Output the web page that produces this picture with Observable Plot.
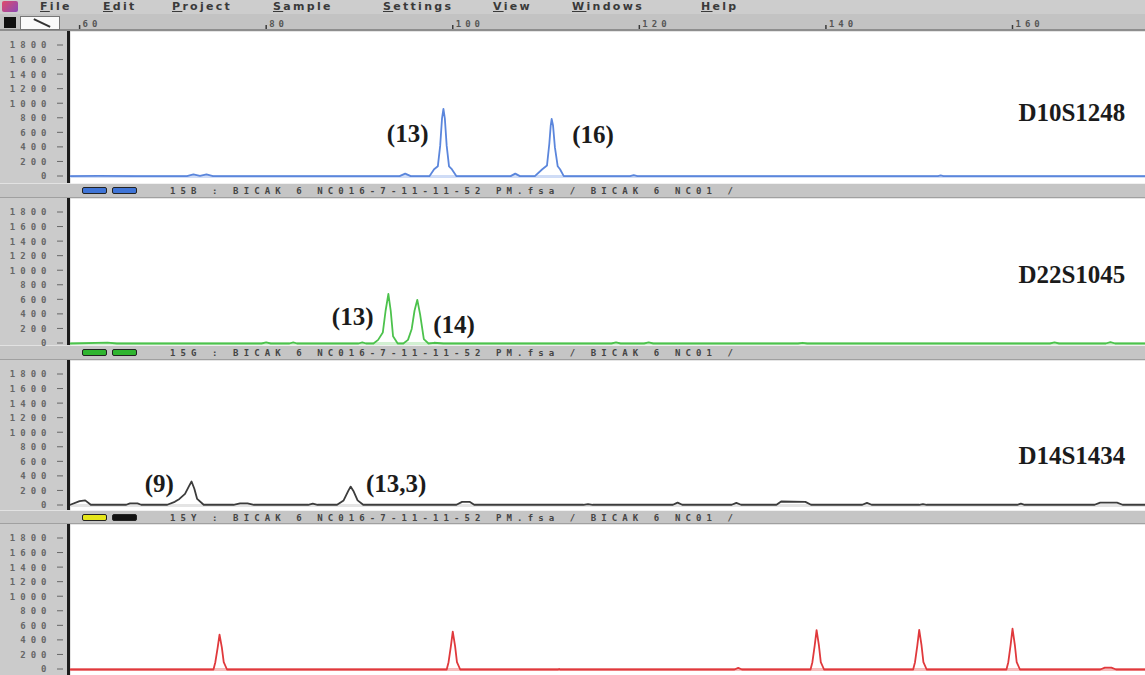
<!DOCTYPE html>
<html>
<head>
<meta charset="utf-8">
<script src="https://cdn.jsdelivr.net/npm/d3@7"></script>
<script src="https://cdn.jsdelivr.net/npm/@observablehq/plot@0.6"></script>
<style>
  html, body { margin: 0; padding: 0; background: #fff; }
  #app { position: relative; width: 1145px; height: 675px; overflow: hidden; background: #fff; }
  .menu { position: absolute; left: 0; top: 0; width: 1145px; height: 14px; background: #cdcdcd; }
  .menu .item { position: absolute; top: 0px; font: 600 11px "DejaVu Sans", sans-serif; letter-spacing: 2.3px; color: #3a3a3a; line-height: 14px; }
  .menu .item u { text-decoration: underline; }
  .menu .icon { position: absolute; left: 2px; top: 1px; width: 16px; height: 11px; background: linear-gradient(135deg, #e04a6a, #8a4ab8); border-radius: 2px; }
  .ruler { position: absolute; left: 0; top: 14px; width: 1145px; height: 17px; background: #c3c3c3; }
  .ruler .dark { position: absolute; left: 0; bottom: 0; width: 1145px; height: 2px; background: #8e8e8e; }
  .ruler .sq { position: absolute; left: 4px; top: 3px; width: 12px; height: 11px; background: #111; }
  .ruler .btn { position: absolute; left: 20px; top: 2px; width: 38px; height: 12px; background: #fafafa; border: 1px solid #777; }
  .ruler .btn::after { content: ""; position: absolute; left: 12px; top: 5px; width: 18px; height: 2px; background: #333; transform: rotate(25deg); }
  .bar { position: absolute; left: 0; width: 1145px; background: #c5c5c5; border-top: 1px solid #e2e2e2; box-sizing: border-box; border-bottom: 1px solid #a0a0a0; }
  .bar .b { position: absolute; top: 3px; width: 25px; height: 7px; border-radius: 2px; box-sizing: border-box; border: 1.5px solid #222; }
  .bar .t { position: absolute; left: 170px; top: 1px; font: bold 9px "DejaVu Sans Mono", monospace; letter-spacing: 5.1px; color: #444; white-space: pre; line-height: 12px; }
  .panel { position: absolute; left: 0; }
  .panel svg { overflow: visible !important; }
  .axisline { position: absolute; left: 67px; width: 3px; background: #1c1c1c; }
  /* RFU tick marks sit a little away from the axis line */
  .chan g[aria-label="y-axis tick"], .chan .tick line { transform: translateX(-7px); }
  .chan g[font-family="Liberation Serif"] text, .chan g[font-family="Liberation Serif"] { letter-spacing: 0; }
</style>
</head>
<body>
<div id="app"></div>
<script>
// Fragment sizes (bp) on the ruler and RFU ticks on every channel
const rulerTicks = [60, 80, 100, 120, 140, 160];
const rfuTicks = [0, 200, 400, 600, 800, 1000, 1200, 1400, 1600, 1800];
const menuItems = ["File", "Edit", "Project", "Sample", "Settings", "View", "Windows", "Help"];

// Blue channel trace, [size (bp), height (RFU)]
const blueTrace = [
  [59.0, 5], [62, 8], [66, 5], [71.5, 5], [72.2, 30], [72.9, 10], [73.6, 28], [74.3, 5],
  [80, 5], [88, 6], [94.3, 5], [94.9, 40], [95.5, 5],
  [97.5, 5], [98.0, 100], [98.4, 140], [98.65, 420], [98.85, 800], [99.0, 930], [99.15, 800],
  [99.35, 420], [99.6, 140], [99.9, 100], [100.4, 5],
  [106.2, 5], [106.7, 40], [107.2, 5],
  [108.8, 5], [109.6, 100], [110.1, 150], [110.35, 450], [110.5, 700], [110.6, 790], [110.75, 700],
  [110.95, 400], [111.25, 140], [111.5, 100], [111.9, 5],
  [119, 5], [119.4, 18], [119.8, 5], [152, 5], [152.3, 15], [152.6, 5], [174.3, 5]
];

// Green channel trace
const greenTrace = [
  [59, 0], [63, 12], [64, 0], [75, 0], [79.5, 0], [80, 15], [80.5, 0], [82.5, 0], [82.9, 15], [83.3, 0],
  [89.9, 0], [90.3, 15], [90.7, 0],
  [91.5, 0], [92.0, 50], [92.5, 150], [92.8, 450], [93.1, 680], [93.35, 450], [93.6, 100], [94.1, 0],
  [94.7, 0], [95.2, 50], [95.6, 200], [95.9, 450], [96.2, 600], [96.5, 400], [96.9, 60], [97.4, 0],
  [98, 10], [99, 0], [117, 0], [117.5, 15], [118, 0], [120.5, 0], [121, 15], [121.5, 0],
  [137, 0], [137.5, 10], [138, 0], [164, 0], [164.5, 15], [165, 0], [170, 0], [170.5, 20], [171, 0], [174.3, 0]
];

// Yellow channel trace (drawn in black)
const blackTrace = [
  [59, 10], [60, 60], [60.6, 70], [61.2, 10], [65, 10], [65.4, 30], [66.2, 30], [66.6, 10],
  [69.4, 10], [70.2, 50], [70.7, 90], [71.3, 160], [71.7, 260], [72.0, 330], [72.3, 230], [72.6, 90], [73.3, 10],
  [76.5, 10], [77.2, 30], [78.0, 30], [78.7, 10], [84.5, 10], [85, 25], [85.5, 10],
  [87.6, 10], [88.3, 70], [88.8, 200], [89.05, 260], [89.35, 200], [89.8, 70], [90.4, 10],
  [100.4, 10], [101, 50], [101.8, 50], [102.3, 10], [114, 10], [114.5, 20], [115, 10],
  [123.6, 10], [124.1, 40], [124.6, 10], [129.9, 10], [130.4, 35], [130.9, 10],
  [134.7, 10], [135.2, 55], [137.8, 50], [138.4, 10], [143.9, 10], [144.4, 35], [144.9, 10],
  [150, 10], [150.4, 20], [150.8, 10], [160.5, 10], [160.9, 25], [161.3, 10],
  [168.8, 10], [169.4, 40], [171.2, 40], [171.8, 10], [174.3, 10]
];

// Red channel: size standard peaks at 75, 100, 139, 150 and 160 bp
const redTrace = [
  [59, 0], [74.35, 0], [74.55, 100], [74.8, 300], [75.0, 480], [75.25, 300], [75.45, 100], [75.8, 0],
  [99.35, 0], [99.55, 100], [99.8, 320], [100.0, 520], [100.25, 320], [100.45, 100], [100.8, 0],
  [111.3, 0], [111.4, 8], [111.5, 0], [130.2, 0], [130.6, 22], [131.0, 0],
  [138.35, 0], [138.55, 100], [138.8, 330], [139.0, 540], [139.25, 330], [139.45, 100], [139.8, 0],
  [149.35, 0], [149.55, 100], [149.8, 330], [150.0, 545], [150.25, 330], [150.45, 100], [150.8, 0],
  [159.35, 0], [159.55, 100], [159.8, 340], [160.0, 560], [160.25, 340], [160.45, 100], [160.8, 0],
  [169.4, 0], [169.9, 25], [170.6, 25], [171.1, 0], [174.3, 0]
];

// Allele calls written next to their peaks
const blueAlleles = [
  {label: "(13)", bp: 97.4, rfu: 590, side: "left"},
  {label: "(16)", bp: 112.8, rfu: 565, side: "right"}
];
const greenAlleles = [
  {label: "(13)", bp: 91.5, rfu: 370, side: "left"},
  {label: "(14)", bp: 97.9, rfu: 250, side: "right"}
];
const blackAlleles = [
  {label: "(9)", bp: 70.1, rfu: 290, side: "left"},
  {label: "(13,3)", bp: 90.7, rfu: 290, side: "right"}
];
const redAlleles = [];

// Locus names
const loci = [
  {name: "D10S1248", bp: 172.1, rfu: 866},
  {name: "D22S1045", bp: 172.1, rfu: 948},
  {name: "D14S1434", bp: 172.1, rfu: 687}
];

const sampleFile = " : BICAK 6 NC016-7-11-11-52 PM.fsa / BICAK 6 NC01 /";
const barTags = ["15B", "15G", "15Y"];

const W = 1145;
const xScale = {domain: [60, 160], range: [79.1, 1012]};
const app = document.getElementById("app");

function el(tag, cls, style, html) {
  const e = document.createElement(tag);
  if (cls) e.className = cls;
  if (style) Object.assign(e.style, style);
  if (html != null) e.innerHTML = html;
  return e;
}

// Menu bar
const menu = el("div", "menu");
menu.appendChild(el("div", "icon"));
const menuLeft = [40, 103, 172, 273, 383, 493, 572, 701];
menuItems.forEach((m, i) => {
  menu.appendChild(el("span", "item", {left: menuLeft[i] + "px"}, `<u>${m[0]}</u>${m.slice(1)}`));
});
app.appendChild(menu);

// Size ruler
const ruler = el("div", "ruler");
ruler.appendChild(el("div", "dark"));
ruler.appendChild(el("div", "sq"));
ruler.appendChild(el("div", "btn"));
const rulerSvg = Plot.plot({
  width: W, height: 17, marginLeft: 0, marginRight: 0, marginTop: 0, marginBottom: 0,
  style: {background: "transparent", position: "absolute", left: "0px", top: "0px", overflow: "visible", letterSpacing: "4px"},
  x: {...xScale, axis: null},
  marks: [
    Plot.tickX(rulerTicks, {x: d => d, insetTop: 11, insetBottom: 2, stroke: "#3a3a3a", strokeWidth: 1.5}),
    Plot.text(rulerTicks, {
      x: d => d, text: d => String(d), frameAnchor: "top", dy: 6, dx: 3, textAnchor: "start",
      fontSize: 9, fontWeight: "bold", fontFamily: "DejaVu Sans Mono", fill: "#555"
    })
  ]
});
ruler.appendChild(rulerSvg);
app.appendChild(ruler);

// Sample bars between the channels
const bars = [
  {top: 183, height: 15, colors: ["#3f74d6", "#3f74d6"]},
  {top: 345, height: 15, colors: ["#2fb52f", "#2fb52f"]},
  {top: 510, height: 14, colors: ["#e6e61a", "#111111"]}
];
bars.forEach((b, i) => {
  const bar = el("div", "bar", {top: b.top + "px", height: b.height + "px"});
  bar.appendChild(el("div", "b", {left: "82px", background: b.colors[0]}));
  bar.appendChild(el("div", "b", {left: "112px", background: b.colors[1]}));
  bar.appendChild(el("div", "t", null, barTags[i] + sampleFile));
  app.appendChild(bar);
});

// Channel panels
const panels = [
  {top: 31, height: 152, trace: blueTrace, color: "#5b86dc", band: "#cfdcf6", alleles: blueAlleles, locus: loci[0]},
  {top: 198, height: 147, trace: greenTrace, color: "#4cc24c", band: "#d2f0d2", alleles: greenAlleles, locus: loci[1]},
  {top: 360, height: 150, trace: blackTrace, color: "#3c3c3c", band: "#e4e4e4", alleles: blackAlleles, locus: loci[2]},
  {top: 524, height: 151, trace: redTrace, color: "#e0393c", band: "#f6bcbc", alleles: redAlleles, locus: null}
];

const alleleFont = {fontFamily: "Liberation Serif", fontWeight: "bold", fontSize: 25, fill: "#1b1b1b"};

panels.forEach(p => {
  const marks = [
    Plot.frame({fill: "white", stroke: null}),
    Plot.ruleY([0], {stroke: p.band, strokeWidth: 3}),
    Plot.line(p.trace, {x: d => d[0], y: d => d[1], stroke: p.color, strokeWidth: 1.8, strokeLinejoin: "round"}),
    Plot.text(p.alleles, {filter: d => d.side === "left", x: "bp", y: "rfu", text: "label", textAnchor: "end", ...alleleFont}),
    Plot.text(p.alleles, {filter: d => d.side === "right", x: "bp", y: "rfu", text: "label", textAnchor: "start", ...alleleFont})
  ];
  if (p.locus) {
    marks.push(Plot.text([p.locus], {x: "bp", y: "rfu", text: "name", textAnchor: "end", ...alleleFont}));
  }
  const svg = Plot.plot({
    className: "chan",
    width: W, height: p.height,
    marginLeft: 70, marginRight: 0, marginTop: 0, marginBottom: 0,
    style: {background: "#cbcbcb", fontFamily: "DejaVu Sans Mono", fontSize: "9px", fontWeight: "bold", color: "#666", letterSpacing: "5px"},
    x: {...xScale, axis: null},
    y: {domain: [0, 1800], range: [145, 14], axis: "left", ticks: rfuTicks, tickSize: 6, tickPadding: 13, label: null, tickFormat: d => String(d)},
    marks
  });
  svg.classList.add("chan");
  const wrap = el("div", "panel", {top: p.top + "px", height: p.height + "px"});
  wrap.appendChild(svg);
  wrap.appendChild(el("div", "axisline", {top: "0px", height: p.height + "px"}));
  app.appendChild(wrap);
});
</script>
</body>
</html>
